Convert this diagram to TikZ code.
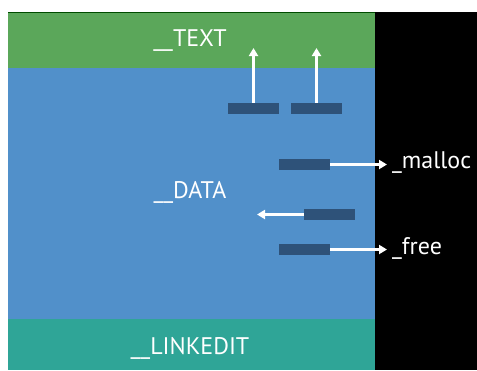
\documentclass[tikz,border=0pt]{standalone}
\usepackage{fontspec}
\setmainfont{PT Sans}
\usetikzlibrary{arrows.meta}
\definecolor{textgreen}{HTML}{5BA75A}
\definecolor{datablue}{HTML}{5190CA}
\definecolor{linkteal}{HTML}{2FA597}
\definecolor{stubblue}{HTML}{2E5279}
\tikzset{
  px/.style={x=1pt,y=-1pt},
  segtext/.style={text=white,font=\fontsize{24}{27}\selectfont,inner sep=0pt},
  symtext/.style={text=white,font=\fontsize{24}{27}\selectfont,inner sep=0pt,anchor=west},
  stub/.style={fill=stubblue,draw=none,minimum width=51pt,minimum height=11pt,inner sep=0pt},
  ptr/.style={white,line width=2.2pt,-{Triangle[length=8pt,width=9pt]}}
}
\begin{document}
\begin{tikzpicture}[px]
  \useasboundingbox (0,0) rectangle (477,370);
  \fill[white] (0,0) rectangle (477,370);
  % segments
  \fill[black] (375,12) rectangle (477,370);
  \fill[textgreen] (8,12) rectangle (375,68);
  \fill[datablue] (8,68) rectangle (375,319);
  \fill[linkteal] (8,319) rectangle (375,370);
  \draw[green!30!black,line width=0.6pt] (8,12) -- (375,12);
  % segment names
  \node[segtext] (text) at (190,41) {\_\_TEXT};
  \node[segtext] (data) at (190,192) {\_\_DATA};
  \node[segtext] (linkedit) at (190,348) {\_\_LINKEDIT};
  % stubs
  \node[stub] (s1) at (253.5,108.5) {};
  \node[stub] (s2) at (316.5,108.5) {};
  \node[stub] (s3) at (304.5,164.5) {};
  \node[stub] (s4) at (329.5,214.5) {};
  \node[stub] (s5) at (304.5,249.5) {};
  % targets
  \coordinate (t1) at (253.5,48);
  \coordinate (t2) at (316.5,48);
  \coordinate (t4) at (257,214.5);
  \node[symtext] (malloc) at (392,163) {\_malloc};
  \node[symtext] (free) at (392,248) {\_free};
  % pointers
  \draw[ptr] (s1.north) -- (t1);
  \draw[ptr] (s2.north) -- (t2);
  \draw[ptr] (s3.east) -- ([xshift=-5pt]malloc.west |- s3.east);
  \draw[ptr] (s4.west) -- (t4);
  \draw[ptr] (s5.east) -- ([xshift=-5pt]free.west |- s5.east);
\end{tikzpicture}
\end{document}
